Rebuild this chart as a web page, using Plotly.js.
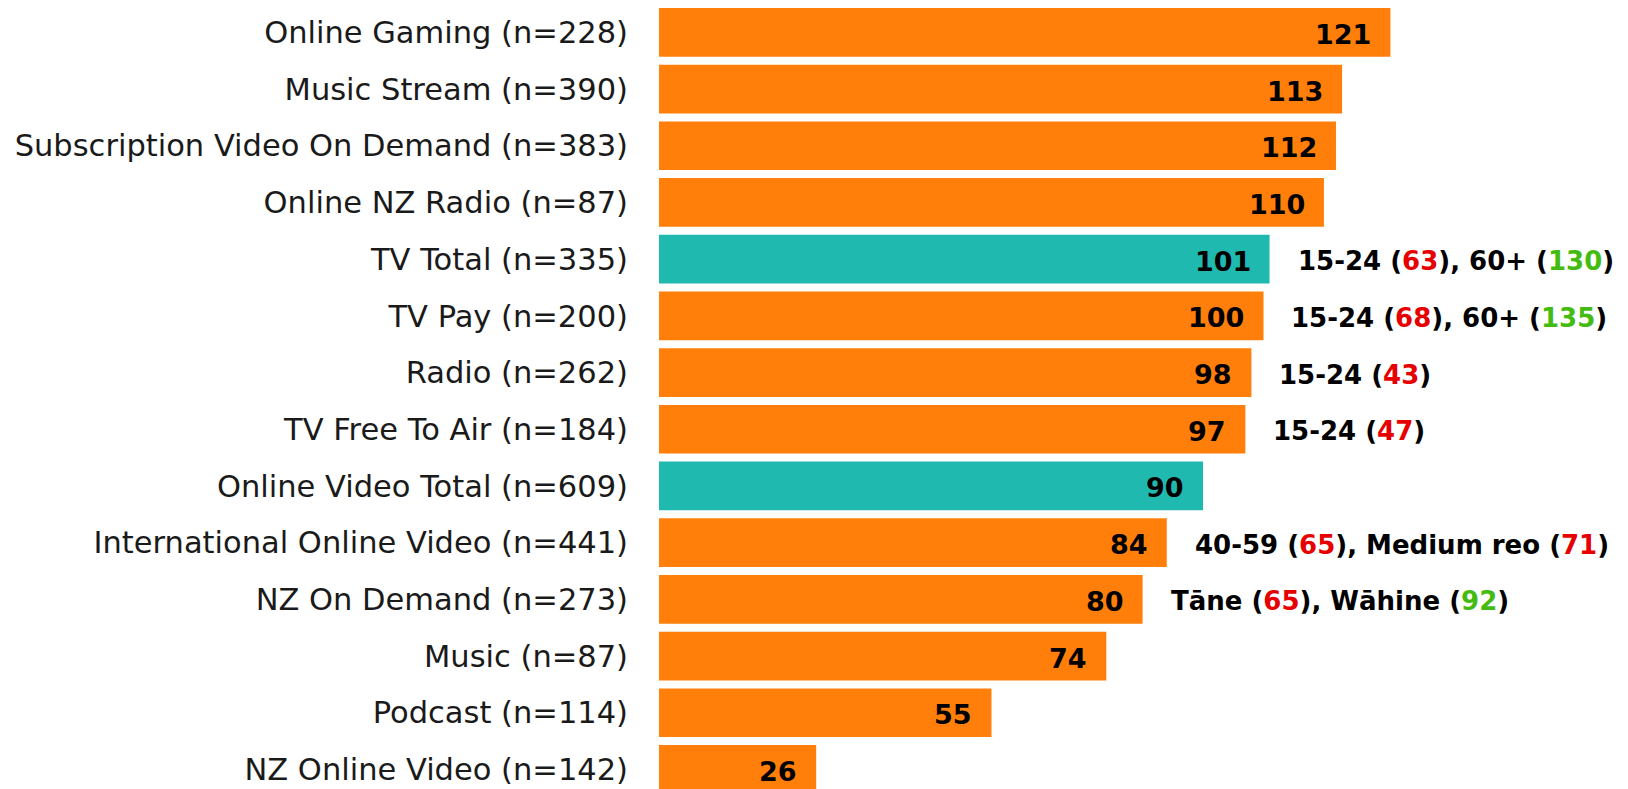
<!DOCTYPE html>
<html>
<head>
<meta charset="utf-8">
<script src="https://cdn.plot.ly/plotly-3.0.1.min.js"></script>
<style>html,body{margin:0;padding:0;background:#fff;}#chart{width:1628px;height:789px;}</style>
</head>
<body>
<div id="chart"></div>
<script>
const categoryNames = ["Online Gaming","Music Stream","Subscription Video On Demand","Online NZ Radio","TV Total","TV Pay","Radio","TV Free To Air","Online Video Total","International Online Video","NZ On Demand","Music","Podcast","NZ Online Video"];
const sampleSizes = [228,390,383,87,335,200,262,184,609,441,273,87,114,142];
const indexValues = [121,113,112,110,101,100,98,97,90,84,80,74,55,26];
const isTotal = [false,false,false,false,true,false,false,false,true,false,false,false,false,false];
const noteGroups = [[],[],[],[],["15-24","60+"],["15-24","60+"],["15-24"],["15-24"],[],["40-59","Medium reo"],["Tāne","Wāhine"],[],[],[]];
const noteValues = [[],[],[],[],[63,130],[68,135],[43],[47],[],[65,71],[65,92],[],[],[]];

const ORANGE = "#FF7F0A", TEAL = "#20B9AF", RED = "#E60000", GREEN = "#44BB11";
const labels = categoryNames.map((c,i)=>c+" (n="+sampleSizes[i]+")");

const trace = {
  type: "bar", orientation: "h",
  x: indexValues, y: labels,
  marker: {color: isTotal.map(t=>t?TEAL:ORANGE)},
  hoverinfo: "none"
};

const annotations = [];
labels.forEach((lab,i)=>{
  annotations.push({
    x: indexValues[i], y: lab, xref:"x", yref:"y",
    text: "<b>"+indexValues[i]+"</b>", showarrow:false,
    xanchor:"right", yanchor:"middle", xshift:-17, yshift:-2,
    font:{family:"DejaVu Sans", size:27, color:"#000"}
  });
  if (noteGroups[i].length){
    const parts = noteGroups[i].map((g,k)=>{
      const v = noteValues[i][k];
      const col = v < indexValues[i] ? RED : GREEN;
      return g+" (<span style=\"color:"+col+"\">"+v+"</span>)";
    });
    annotations.push({
      x: indexValues[i], y: lab, xref:"x", yref:"y",
      text: "<b>"+parts.join(", ")+"</b>", showarrow:false,
      xanchor:"left", yanchor:"middle", xshift:26, yshift:-2,
      font:{family:"DejaVu Sans", size:26, color:"#000"}
    });
  }
});

const layout = {
  width:1628, height:789,
  margin:{l:659, r:0, t:0, b:0, pad:0},
  paper_bgcolor:"#fff", plot_bgcolor:"#fff",
  showlegend:false,
  bargap:0.141,
  xaxis:{range:[0,160.3], showgrid:false, zeroline:false, showticklabels:false, showline:false, fixedrange:true},
  yaxis:{type:"category", categoryorder:"array", categoryarray:labels, autorange:false, range:[13.345,-0.5705],
         showgrid:false, zeroline:false, showline:false, ticks:"", ticklabelstandoff:30,
         tickfont:{family:"DejaVu Sans", size:30.5, color:"#1a1a1a"}},
  annotations: annotations,
  font:{family:"DejaVu Sans"}
};
Plotly.newPlot("chart",[trace],layout,{displayModeBar:false, staticPlot:true});
</script>
</body>
</html>
